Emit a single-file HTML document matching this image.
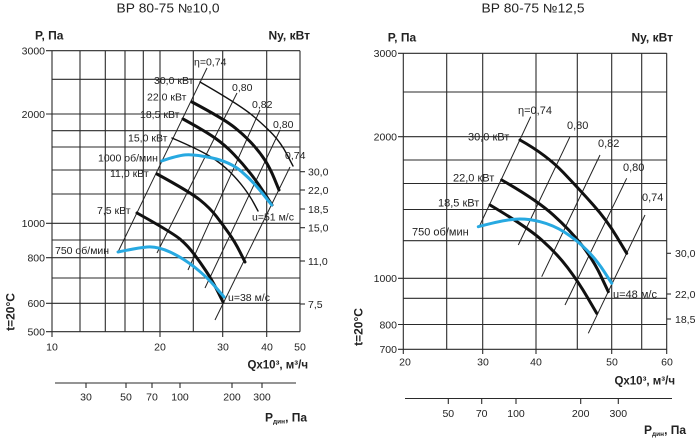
<!DOCTYPE html>
<html><head><meta charset="utf-8"><style>
html,body{margin:0;padding:0;background:#fff;}
svg{display:block;}
text{font-family:"Liberation Sans",Arial,sans-serif;fill:#222;}
</style></head><body>
<svg width="696" height="440" viewBox="0 0 696 440" xmlns="http://www.w3.org/2000/svg">
<!-- ================= LEFT CHART ================= -->
<g stroke="#2a2a2a" stroke-width="1.1" fill="none">
  <!-- verticals -->
  <line x1="52" y1="50.7" x2="52" y2="337"/>
  <line x1="80" y1="50.7" x2="80" y2="331.7"/>
  <line x1="105.3" y1="50.7" x2="105.3" y2="331.7"/>
  <line x1="125" y1="50.7" x2="125" y2="331.7"/>
  <line x1="143.3" y1="50.7" x2="143.3" y2="331.7"/>
  <line x1="160" y1="50.7" x2="160" y2="337"/>
  <line x1="193.3" y1="50.7" x2="193.3" y2="331.7"/>
  <line x1="222.7" y1="50.7" x2="222.7" y2="337"/>
  <line x1="266.7" y1="50.7" x2="266.7" y2="337"/>
  <line x1="300" y1="50.7" x2="300" y2="331.7"/>
  <!-- horizontals -->
  <line x1="46" y1="50.7" x2="300" y2="50.7"/>
  <line x1="52" y1="79.3" x2="300" y2="79.3"/>
  <line x1="46" y1="114" x2="300" y2="114"/>
  <line x1="52" y1="130.7" x2="300" y2="130.7"/>
  <line x1="52" y1="147" x2="300" y2="147"/>
  <line x1="52" y1="170" x2="300" y2="170"/>
  <line x1="52" y1="194" x2="300" y2="194"/>
  <line x1="46" y1="223.3" x2="300" y2="223.3"/>
  <line x1="52" y1="240" x2="300" y2="240"/>
  <line x1="46" y1="257.7" x2="300" y2="257.7"/>
  <line x1="52" y1="278" x2="300" y2="278"/>
  <line x1="46" y1="303.3" x2="300" y2="303.3"/>
  <line x1="46" y1="331.7" x2="300" y2="331.7"/>
  <!-- Ny ticks -->
  <line x1="300" y1="171.7" x2="305" y2="171.7"/>
  <line x1="300" y1="190" x2="305" y2="190"/>
  <line x1="300" y1="209" x2="305" y2="209"/>
  <line x1="300" y1="227.7" x2="305" y2="227.7"/>
  <line x1="300" y1="261" x2="305" y2="261"/>
  <line x1="300" y1="304" x2="305" y2="304"/>
  <!-- second axis -->
  <line x1="55" y1="383" x2="296" y2="383"/>
  <line x1="86" y1="383" x2="86" y2="388"/>
  <line x1="126" y1="383" x2="126" y2="388"/>
  <line x1="152" y1="383" x2="152" y2="388"/>
  <line x1="180" y1="383" x2="180" y2="388"/>
  <line x1="232" y1="383" x2="232" y2="388"/>
  <line x1="262" y1="383" x2="262" y2="388"/>
</g>
<!-- efficiency lines left -->
<g stroke="#222" stroke-width="1" fill="none">
  <line x1="207" y1="68" x2="118" y2="252"/>
  <line x1="237" y1="93" x2="157" y2="253"/>
  <line x1="260" y1="110" x2="188" y2="270"/>
  <line x1="280" y1="130" x2="205" y2="288"/>
  <line x1="290" y1="167" x2="215" y2="320"/>
</g>
<!-- power curves left -->
<g stroke="#111" fill="none" stroke-linecap="round" stroke-linejoin="round">
  <path stroke-width="1.4" d="M200,82 Q240,105 252.5,115.5 Q265,126 273,134.5 Q281,143 287,154.5 L293,166"/>
  <path stroke-width="1.4" d="M172,138 Q200,150 211,157 Q222,164 230,172 Q238,180 244,188 Q250,196 254,203.5 L258,211"/>
  <path stroke-width="3" d="M192,102 Q222,118 232,125.5 Q242,133 250.5,142 Q259,151 264.5,159.5 Q270,168 274.5,179 L279,190"/>
  <path stroke-width="3" d="M183,119 Q205,131 215,138 Q225,145 234,154.5 Q243,164 250.5,173.5 Q258,183 265,194 L272,205"/>
  <path stroke-width="3" d="M157,174 Q190,192 200,200 Q210,208 216.5,216.5 Q223,225 229,233.5 Q235,242 240,252 L245,262"/>
  <path stroke-width="3" d="M137,213 Q173,233 180.5,239.5 Q188,246 194,254 Q200,262 206,271 Q212,280 217.5,291 L223,302"/>
</g>
<g stroke="#27a9e1" stroke-width="3" fill="none" stroke-linecap="round" stroke-linejoin="round">
  <path d="M118,252 Q137,248 147,247 Q157,246 170,252 Q183,258 195,267.5 Q207,277 215.5,287 L224,297"/>
  <path d="M161.7,161 Q177,155.7 185.2,154.9 Q193.3,154 211.7,157.9 Q230,161.7 241.7,171.7 Q253.3,181.7 262.5,193.4 L271.7,205"/>
</g>
<!-- left texts -->
<text x="168" y="12.5" font-size="12.5" text-anchor="middle" textLength="103" lengthAdjust="spacingAndGlyphs">ВР 80-75 №10,0</text>
<text x="35" y="39.5" font-size="12" font-weight="bold">P, Па</text>
<text x="310" y="39.5" font-size="12" font-weight="bold" text-anchor="end">Ny, кВт</text>
<g font-size="10.5" text-anchor="end">
  <text x="45" y="54.5">3000</text>
  <text x="45" y="117.8">2000</text>
  <text x="45" y="227.1">1000</text>
  <text x="45" y="261.5">800</text>
  <text x="45" y="307.1">600</text>
  <text x="45" y="335.5">500</text>
</g>
<g font-size="10.5" text-anchor="middle">
  <text x="52" y="350.5">10</text>
  <text x="160" y="350.5">20</text>
  <text x="223" y="350.5">30</text>
  <text x="267" y="350.5">40</text>
  <text x="300" y="350.5">50</text>
  <text x="86" y="400.5">30</text>
  <text x="126" y="400.5">50</text>
  <text x="152" y="400.5">70</text>
  <text x="180" y="400.5">100</text>
  <text x="232" y="400.5">200</text>
  <text x="262" y="400.5">300</text>
</g>
<g font-size="10.5">
  <text x="308" y="175.5">30,0</text>
  <text x="308" y="193.8">22,0</text>
  <text x="308" y="212.8">18,5</text>
  <text x="308" y="231.5">15,0</text>
  <text x="308" y="264.8">11,0</text>
  <text x="308" y="307.8">7,5</text>
</g>
<text x="308" y="368.5" font-size="11.5" font-weight="bold" text-anchor="end">Qx10³, м³/ч</text>
<text x="265" y="421.5" font-size="12" font-weight="bold">P<tspan font-size="6.5" dy="2">дин</tspan><tspan dy="-2">, Па</tspan></text>
<text x="0" y="0" font-size="12" font-weight="bold" text-anchor="middle" transform="translate(14.5,312) rotate(-90)">t=20°C</text>
<g font-size="10.5">
  <text x="194" y="65.5">η=0,74</text>
  <text x="154" y="84">30,0 кВт</text>
  <text x="147" y="100.5">22,0 кВт</text>
  <text x="140" y="118">18,5 кВт</text>
  <text x="128" y="141.5">15,0 кВт</text>
  <text x="98" y="161.5">1000 об/мин</text>
  <text x="110" y="177">11,0 кВт</text>
  <text x="97" y="214">7,5 кВт</text>
  <text x="55" y="254">750 об/мин</text>
  <text x="252" y="220.5">u=51 м/с</text>
  <text x="228" y="301">u=38 м/с</text>
  <text x="232" y="91">0,80</text>
  <text x="252" y="108">0,82</text>
  <text x="273" y="128">0,80</text>
  <text x="285" y="159">0,74</text>
</g>

<!-- ================= RIGHT CHART ================= -->
<g stroke="#2a2a2a" stroke-width="1.1" fill="none">
  <line x1="403.3" y1="53.3" x2="403.3" y2="354"/>
  <line x1="446.7" y1="53.3" x2="446.7" y2="349.3"/>
  <line x1="482.7" y1="53.3" x2="482.7" y2="354"/>
  <line x1="536" y1="53.3" x2="536" y2="354"/>
  <line x1="577.3" y1="53.3" x2="577.3" y2="349.3"/>
  <line x1="611.7" y1="53.3" x2="611.7" y2="354"/>
  <line x1="641.7" y1="53.3" x2="641.7" y2="349.3"/>
  <line x1="666.7" y1="53.3" x2="666.7" y2="354"/>
  <line x1="398" y1="53.3" x2="666.7" y2="53.3"/>
  <line x1="403.3" y1="92" x2="666.7" y2="92"/>
  <line x1="398" y1="136.7" x2="666.7" y2="136.7"/>
  <line x1="403.3" y1="160" x2="666.7" y2="160"/>
  <line x1="403.3" y1="183.5" x2="666.7" y2="183.5"/>
  <line x1="403.3" y1="209.5" x2="666.7" y2="209.5"/>
  <line x1="403.3" y1="240.7" x2="666.7" y2="240.7"/>
  <line x1="398" y1="278.3" x2="666.7" y2="278.3"/>
  <line x1="403.3" y1="298.3" x2="666.7" y2="298.3"/>
  <line x1="398" y1="324.5" x2="666.7" y2="324.5"/>
  <line x1="398" y1="349.3" x2="666.7" y2="349.3"/>
  <line x1="666.7" y1="253.3" x2="671" y2="253.3"/>
  <line x1="666.7" y1="294" x2="671" y2="294"/>
  <line x1="666.7" y1="319" x2="671" y2="319"/>
  <line x1="405" y1="398.5" x2="672" y2="398.5"/>
  <line x1="448.3" y1="398.5" x2="448.3" y2="404"/>
  <line x1="481.7" y1="398.5" x2="481.7" y2="404"/>
  <line x1="516" y1="398.5" x2="516" y2="404"/>
  <line x1="580.7" y1="398.5" x2="580.7" y2="404"/>
  <line x1="618.3" y1="398.5" x2="618.3" y2="404"/>
</g>
<g stroke="#222" stroke-width="1" fill="none">
  <line x1="530.7" y1="116.7" x2="480" y2="225"/>
  <line x1="570" y1="136.7" x2="518.3" y2="245"/>
  <line x1="600" y1="155" x2="541.7" y2="276.7"/>
  <line x1="626.7" y1="178.3" x2="565" y2="305"/>
  <line x1="645" y1="215" x2="588.3" y2="333.3"/>
</g>
<g stroke="#111" stroke-width="3" fill="none" stroke-linecap="round" stroke-linejoin="round">
  <path d="M520,140 Q546.7,155 563.3,172.5 Q580,190 593.3,205 Q606.7,220 616.7,236.7 L626.7,253.3"/>
  <path d="M501.7,180 Q536.7,200 553.3,215 Q570,230 581.7,245 Q593.3,260 600.8,275.8 L608.3,291.7"/>
  <path d="M490,205 Q526.7,226.7 541.7,240 Q556.7,253.3 567.5,267.5 Q578.3,281.7 587.5,297.5 L596.7,313.3"/>
</g>
<path stroke="#27a9e1" stroke-width="3" fill="none" stroke-linecap="round" stroke-linejoin="round" d="M478.3,226.7 Q503.3,220 515,219.2 Q526.7,218.3 540,221.7 Q553.3,225 565,232.5 Q576.7,240 586.7,250 Q596.7,260 604.2,271.7 L611.7,283.3"/>
<text x="533" y="12.5" font-size="12.5" text-anchor="middle" textLength="103" lengthAdjust="spacingAndGlyphs">ВР 80-75 №12,5</text>
<text x="387.7" y="41.5" font-size="12" font-weight="bold">P, Па</text>
<text x="673" y="41.5" font-size="12" font-weight="bold" text-anchor="end">Ny, кВт</text>
<g font-size="10.5" text-anchor="end">
  <text x="397" y="57.1">3000</text>
  <text x="397" y="140.5">2000</text>
  <text x="397" y="282.1">1000</text>
  <text x="397" y="328.3">800</text>
  <text x="397" y="353.1">700</text>
</g>
<g font-size="10.5" text-anchor="middle">
  <text x="405" y="365.5">20</text>
  <text x="483" y="365.5">30</text>
  <text x="536" y="365.5">40</text>
  <text x="612" y="365.5">50</text>
  <text x="667" y="365.5">60</text>
  <text x="448.3" y="417">50</text>
  <text x="481.7" y="417">70</text>
  <text x="516" y="417">100</text>
  <text x="580.7" y="417">200</text>
  <text x="618.3" y="417">300</text>
</g>
<g font-size="10.5">
  <text x="675" y="257.1">30,0</text>
  <text x="675" y="297.8">22,0</text>
  <text x="675" y="322.8">18,5</text>
</g>
<text x="675" y="384.5" font-size="11.5" font-weight="bold" text-anchor="end">Qx10³, м³/ч</text>
<text x="644" y="434" font-size="12" font-weight="bold">P<tspan font-size="6.5" dy="2">дин</tspan><tspan dy="-2">, Па</tspan></text>
<text x="0" y="0" font-size="12" font-weight="bold" text-anchor="middle" transform="translate(362.5,327) rotate(-90)">t=20°C</text>
<g font-size="11">
  <text x="518" y="114">η=0,74</text>
  <text x="468" y="140.5">30,0 кВт</text>
  <text x="453" y="181.3">22,0 кВт</text>
  <text x="438" y="206.5">18,5 кВт</text>
  <text x="412" y="235.5">750 об/мин</text>
  <text x="613" y="298">u=48 м/с</text>
  <text x="567" y="129">0,80</text>
  <text x="598" y="147">0,82</text>
  <text x="623" y="171">0,80</text>
  <text x="642" y="201">0,74</text>
</g>
</svg>
</body></html>
